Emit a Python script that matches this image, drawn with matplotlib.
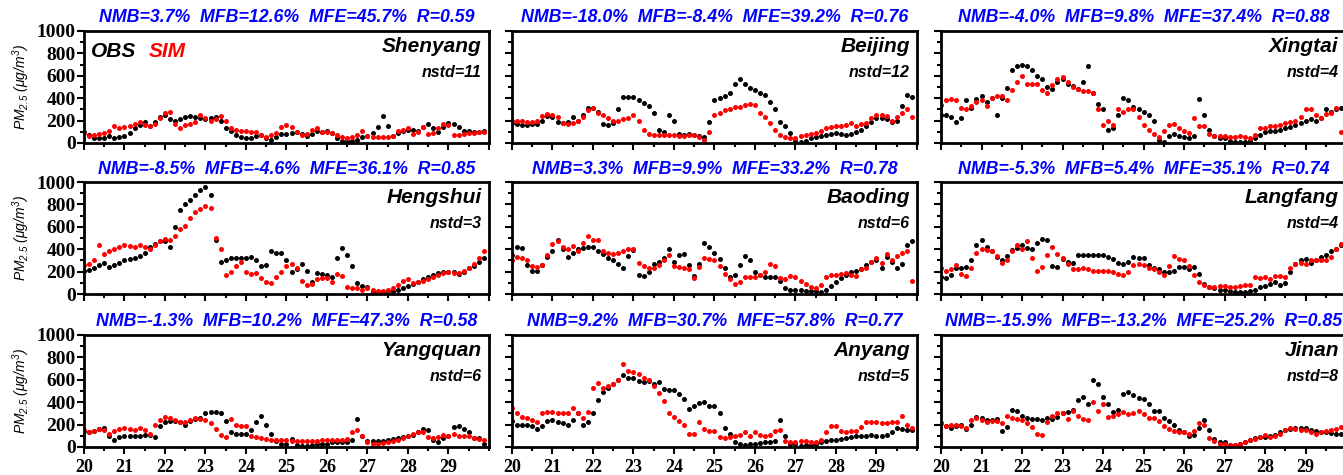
import numpy as np
import matplotlib
matplotlib.use('Agg')
import matplotlib.pyplot as plt
from matplotlib.ticker import MultipleLocator

# 3-hourly PM2.5 readings (ug/m3), day 20 00h ... day 29 21h
hours = np.arange(80) * 3 / 24.0 + 20

cities = ["Shenyang", "Beijing", "Xingtai", "Hengshui", "Baoding", "Langfang",
          "Yangquan", "Anyang", "Jinan"]
nstd = [11, 12, 4, 3, 6, 4, 6, 5, 8]
nmb = ["3.7", "-18.0", "-4.0", "-8.5", "3.3", "-5.3", "-1.3", "9.2", "-15.9"]
mfb = ["12.6", "-8.4", "9.8", "-4.6", "9.9", "5.4", "10.2", "30.7", "-13.2"]
mfe = ["45.7", "39.2", "37.4", "36.1", "33.2", "35.1", "47.3", "57.8", "25.2"]
corr = ["0.59", "0.76", "0.88", "0.85", "0.78", "0.74", "0.58", "0.77", "0.85"]

obs_shenyang = [100, 70, 45, 40, 45, 60, 45, 55,
                60, 90, 130, 160, 190, 150, 190, 230,
                250, 210, 200, 210, 230, 240, 230, 220,
                210, 220, 230, 200, 130, 110, 70, 50,
                45, 40, 60, 70, 40, 30, 50, 80,
                80, 90, 100, 80, 60, 80, 110, 100,
                110, 90, 40, 20, 15, 20, 30, 50,
                60, 90, 140, 240, 150, 60, 90, 110,
                120, 120, 110, 140, 170, 130, 100, 140,
                180, 170, 140, 110, 110, 100, 100, 110]
sim_shenyang = [90, 60, 75, 80, 85, 110, 150, 130,
                140, 150, 170, 190, 160, 150, 170, 220,
                270, 280, 170, 130, 160, 170, 190, 250,
                220, 200, 210, 240, 200, 130, 120, 110,
                110, 100, 100, 70, 50, 70, 90, 140,
                160, 140, 100, 70, 80, 120, 130, 100,
                100, 90, 70, 50, 40, 50, 70, 110,
                60, 50, 50, 55, 50, 60, 110, 120,
                130, 80, 100, 140, 80, 90, 130, 170,
                160, 70, 75, 80, 85, 90, 100, 100]

obs_beijing = [180, 170, 160, 160, 165, 170, 200, 240,
               230, 190, 180, 190, 230, 200, 250, 310,
               310, 280, 170, 160, 180, 300, 410, 410,
               410, 380, 360, 330, 270, 120, 100, 250,
               200, 80, 70, 80, 70, 60, 50, 190,
               380, 400, 420, 450, 530, 570, 530, 490,
               470, 450, 430, 370, 300, 190, 150, 90,
               20, 10, 20, 40, 50, 60, 70, 80,
               90, 80, 70, 80, 100, 120, 150, 190,
               220, 220, 210, 190, 200, 330, 430, 410]
sim_beijing = [200, 200, 195, 190, 190, 200, 240, 260,
               250, 230, 180, 170, 180, 200, 230, 290,
               310, 270, 250, 220, 200, 200, 210, 220,
               250, 200, 120, 80, 70, 70, 70, 70,
               70, 60, 60, 70, 70, 50, 30, 100,
               250, 270, 290, 300, 320, 320, 340, 350,
               340, 270, 230, 180, 120, 70, 50, 40,
               40, 60, 70, 80, 90, 110, 130, 140,
               150, 150, 160, 180, 150, 170, 180, 220,
               250, 250, 240, 200, 230, 270, 300, 230]

obs_xingtai = [250, 250, 230, 190, 220, 380, 310, 390,
               420, 370, 400, 250, 400, 490, 650, 690,
               700, 690, 650, 600, 570, 500, 480, 540,
               570, 530, 510, 480, 540, 690, 450, 350,
               300, 120, 130, 250, 400, 380, 320, 300,
               280, 250, 200, 30, 10, 60, 80, 60,
               50, 40, 60, 390, 250, 120, 60, 40,
               40, 20, 10, 10, 10, 20, 40, 70,
               100, 110, 110, 120, 130, 140, 160, 180,
               200, 210, 200, 220, 300, 280, 300, 310]
sim_xingtai = [340, 380, 390, 380, 310, 300, 330, 370,
               380, 330, 400, 420, 420, 380, 470, 540,
               600, 530, 530, 530, 470, 450, 520, 570,
               590, 540, 500, 480, 460, 460, 450, 300,
               160, 200, 160, 300, 280, 300, 300, 230,
               160, 120, 80, 50, 110, 160, 170, 130,
               110, 90, 220, 150, 150, 80, 60, 60,
               60, 50, 50, 60, 50, 40, 70, 130,
               130, 150, 150, 160, 180, 190, 200, 230,
               300, 300, 250, 220, 260, 270, 310, 100]

obs_hengshui = [210, 215, 230, 260, 280, 240, 260, 280,
                300, 310, 320, 340, 370, 420, 450, 470,
                470, 420, 600, 750, 800, 840, 880, 930,
                960, 880, 480, 290, 300, 320, 320, 320,
                320, 330, 300, 250, 260, 380, 370, 370,
                300, 200, 220, 270, 210, 110, 190, 180,
                170, 150, 320, 410, 350, 250, 100, 70,
                60, 20, 20, 20, 30, 30, 40, 50,
                70, 90, 110, 130, 150, 170, 190, 200,
                200, 200, 180, 200, 230, 250, 290, 320]
sim_hengshui = [260, 270, 300, 440, 360, 380, 400, 420,
                440, 430, 420, 440, 420, 400, 440, 470,
                490, 480, 520, 580, 610, 680, 730, 760,
                790, 770, 500, 400, 170, 200, 250, 290,
                200, 180, 190, 140, 110, 100, 150, 200,
                250, 270, 230, 120, 80, 90, 130, 140,
                140, 110, 180, 160, 60, 50, 50, 40,
                50, 40, 30, 30, 40, 50, 80, 120,
                130, 100, 110, 120, 130, 150, 170, 190,
                200, 190, 190, 210, 230, 270, 320, 380]

obs_baoding = [350, 420, 410, 260, 210, 210, 260, 330,
               380, 480, 400, 330, 370, 400, 410, 420,
               420, 380, 360, 320, 300, 270, 230, 340,
               390, 170, 160, 200, 270, 290, 320, 400,
               290, 350, 360, 260, 160, 270, 460, 420,
               370, 310, 230, 150, 170, 260, 340, 300,
               200, 170, 150, 150, 150, 120, 50, 40,
               40, 40, 30, 30, 25, 20, 40, 70,
               110, 140, 170, 200, 210, 220, 260, 290,
               300, 230, 330, 290, 230, 270, 440, 470]
sim_baoding = [300, 330, 320, 300, 250, 240, 260, 350,
               450, 470, 420, 400, 430, 380, 460, 520,
               480, 480, 380, 370, 360, 370, 380, 400,
               400, 280, 250, 230, 230, 260, 300, 350,
               250, 240, 230, 220, 140, 240, 320, 310,
               300, 250, 180, 130, 90, 110, 150, 150,
               150, 170, 200, 270, 250, 140, 130, 160,
               150, 120, 90, 60, 50, 80, 150, 170,
               170, 180, 190, 170, 160, 220, 230, 290,
               320, 280, 360, 300, 340, 370, 380, 120]

obs_langfang = [150, 140, 170, 230, 230, 240, 300, 440,
                480, 420, 380, 330, 300, 340, 390, 410,
                440, 410, 400, 460, 490, 480, 250, 240,
                310, 290, 280, 350, 350, 350, 350, 350,
                350, 330, 310, 280, 270, 290, 330, 320,
                320, 260, 230, 220, 200, 200, 210, 240,
                240, 220, 240, 180, 90, 60, 50, 40,
                40, 30, 20, 20, 20, 30, 40, 60,
                70, 90, 110, 80, 100, 200, 270, 300,
                310, 280, 300, 330, 350, 380, 400, 440]
sim_langfang = [230, 210, 220, 260, 180, 160, 230, 370,
                400, 390, 380, 340, 280, 300, 380, 440,
                400, 470, 320, 210, 240, 350, 420, 360,
                320, 270, 220, 220, 230, 220, 210, 210,
                210, 210, 200, 180, 170, 200, 260, 270,
                260, 230, 220, 200, 170, 250, 340, 310,
                300, 250, 170, 110, 80, 60, 60, 70,
                70, 60, 60, 70, 80, 80, 150, 140,
                150, 130, 160, 160, 150, 230, 270, 280,
                270, 300, 300, 300, 300, 330, 400, 450]

obs_yangquan = [140, 130, 140, 160, 170, 100, 60, 90,
                100, 100, 100, 100, 110, 110, 90, 190,
                220, 230, 230, 220, 200, 230, 250, 260,
                300, 310, 310, 300, 230, 130, 120, 120,
                120, 150, 220, 280, 200, 120, 50, 30,
                30, 70, 20, 10, 10, 20, 30, 30,
                30, 40, 40, 40, 40, 60, 250, 100,
                50, 50, 50, 50, 60, 70, 80, 90,
                100, 110, 130, 160, 150, 60, 40, 80,
                100, 180, 190, 160, 130, 80, 80, 30]
sim_yangquan = [150, 130, 140, 160, 150, 120, 140, 160,
                170, 160, 150, 170, 150, 120, 200, 240,
                270, 260, 240, 220, 220, 240, 260, 250,
                240, 210, 160, 110, 90, 250, 200, 190,
                190, 100, 90, 80, 70, 60, 60, 60,
                60, 50, 50, 50, 50, 50, 55, 60,
                60, 60, 60, 65, 70, 130, 150, 100,
                40, 30, 30, 35, 40, 50, 60, 80,
                100, 120, 130, 130, 90, 80, 90, 110,
                100, 120, 100, 100, 100, 80, 70, 60]

obs_anyang = [230, 200, 200, 200, 190, 160, 190, 230,
              240, 220, 210, 200, 240, 300, 200, 220,
              300, 420, 490, 530, 560, 600, 640, 620,
              620, 590, 580, 590, 560, 580, 520, 510,
              510, 470, 430, 340, 370, 390, 400, 370,
              370, 300, 170, 120, 40, 30, 20, 25,
              30, 35, 40, 45, 50, 240, 100, 30,
              30, 10, 15, 20, 30, 40, 50, 60,
              60, 70, 80, 90, 100, 100, 100, 110,
              100, 100, 110, 130, 170, 160, 150, 150]
sim_anyang = [350, 300, 270, 260, 240, 220, 300, 310,
              310, 300, 300, 300, 350, 300, 260, 310,
              530, 570, 530, 540, 560, 600, 740, 680,
              670, 650, 620, 600, 540, 480, 410, 300,
              270, 230, 200, 120, 120, 220, 160, 140,
              140, 90, 80, 90, 100, 110, 130, 100,
              130, 110, 100, 110, 140, 150, 50, 40,
              40, 50, 50, 45, 40, 60, 130, 190,
              190, 140, 130, 140, 140, 180, 220, 220,
              220, 210, 210, 220, 220, 280, 200, 170]

obs_jinan = [210, 190, 170, 190, 200, 160, 200, 270,
             260, 240, 240, 250, 140, 180, 330, 320,
             280, 260, 250, 250, 240, 260, 250, 270,
             300, 310, 330, 420, 450, 380, 600, 560,
             450, 380, 310, 330, 470, 490, 460, 440,
             430, 380, 320, 320, 260, 230, 200, 150,
             130, 100, 110, 170, 240, 150, 70, 40,
             40, 20, 20, 30, 40, 60, 80, 90,
             90, 100, 110, 130, 150, 160, 170, 170,
             170, 150, 140, 130, 130, 125, 120, 120]
sim_jinan = [210, 190, 200, 200, 190, 170, 240, 260,
             240, 220, 230, 230, 210, 280, 260, 250,
             240, 210, 180, 120, 110, 220, 280, 300,
             300, 250, 320, 280, 250, 240, 400, 320,
             380, 270, 280, 290, 310, 290, 300, 320,
             290, 260, 260, 230, 190, 160, 140, 130,
             130, 120, 140, 210, 200, 80, 50, 30,
             30, 20, 20, 30, 40, 60, 70, 90,
             110, 90, 100, 120, 150, 170, 160, 150,
             150, 130, 120, 130, 140, 150, 160, 180]

obs_all = [obs_shenyang, obs_beijing, obs_xingtai, obs_hengshui, obs_baoding,
           obs_langfang, obs_yangquan, obs_anyang, obs_jinan]
sim_all = [sim_shenyang, sim_beijing, sim_xingtai, sim_hengshui, sim_baoding,
           sim_langfang, sim_yangquan, sim_anyang, sim_jinan]

plt.rcParams['mathtext.fontset'] = 'custom'
plt.rcParams['mathtext.rm'] = 'Liberation Sans:italic'
plt.rcParams['mathtext.it'] = 'Liberation Sans:italic'

fig = plt.figure(figsize=(13.43, 4.75), dpi=100)

lefts = [0.0625, 0.3812, 0.7007]
bottoms = [0.699, 0.381, 0.059]
w, h = 0.3016, 0.2358

lab = dict(family='Liberation Sans', weight='bold', style='italic')

for k, city in enumerate(cities):
    r, c = divmod(k, 3)
    ax = fig.add_axes([lefts[c], bottoms[r], w, h])

    ax.plot(hours, obs_all[k], 'o', ms=3.6, mew=0, color='black')
    ax.plot(hours, sim_all[k], 'o', ms=3.6, mew=0, color='red')

    ax.set_xlim(20, 30)
    ax.set_ylim(0, 1000)
    ax.xaxis.set_major_locator(MultipleLocator(1))
    ax.xaxis.set_minor_locator(MultipleLocator(0.5))
    ax.yaxis.set_major_locator(MultipleLocator(200))
    ax.yaxis.set_minor_locator(MultipleLocator(100))
    ax.tick_params(which='both', direction='out', width=1.5, top=False, right=False)
    ax.tick_params(which='major', length=5)
    ax.tick_params(which='minor', length=3)
    ax.tick_params(axis='y', pad=1)
    ax.tick_params(axis='x', pad=4)
    for s in ax.spines.values():
        s.set_linewidth(2)

    if c == 0:
        ax.set_yticks([0, 200, 400, 600, 800, 1000])
        ax.set_yticklabels(['0', '200', '400', '600', '800', '1000'],
                           family='Liberation Serif', weight='bold', fontsize=14)
        ax.set_ylabel('PM$_{2.5}$ (μg/m$^3$)', family='Liberation Sans',
                      style='italic', fontsize=10, labelpad=3)
    else:
        ax.set_yticklabels([])
    if r == 2:
        ax.set_xticks(range(20, 30))
        ax.set_xticklabels([str(d) for d in range(20, 30)],
                           family='Liberation Serif', weight='bold', fontsize=13)
    else:
        ax.set_xticklabels([])

    stats = f"NMB={nmb[k]}%  MFB={mfb[k]}%  MFE={mfe[k]}%  R={corr[k]}"
    ax.text(0.5, 1.04, stats, transform=ax.transAxes, ha='center', va='bottom',
            color='#0000ff', fontsize=12.8, **lab)
    ax.text(0.982, 0.95, city, transform=ax.transAxes, ha='right', va='top',
            fontsize=15, **lab)
    ax.text(0.982, 0.70, f"nstd={nstd[k]}", transform=ax.transAxes, ha='right',
            va='top', fontsize=11.5, **lab)
    if k == 0:
        ax.text(0.018, 0.90, 'OBS', transform=ax.transAxes, ha='left', va='top',
                fontsize=15, **lab)
        ax.text(0.16, 0.90, 'SIM', transform=ax.transAxes, ha='left', va='top',
                fontsize=15, color='red', **lab)

fig.savefig('out.png', dpi=100)
